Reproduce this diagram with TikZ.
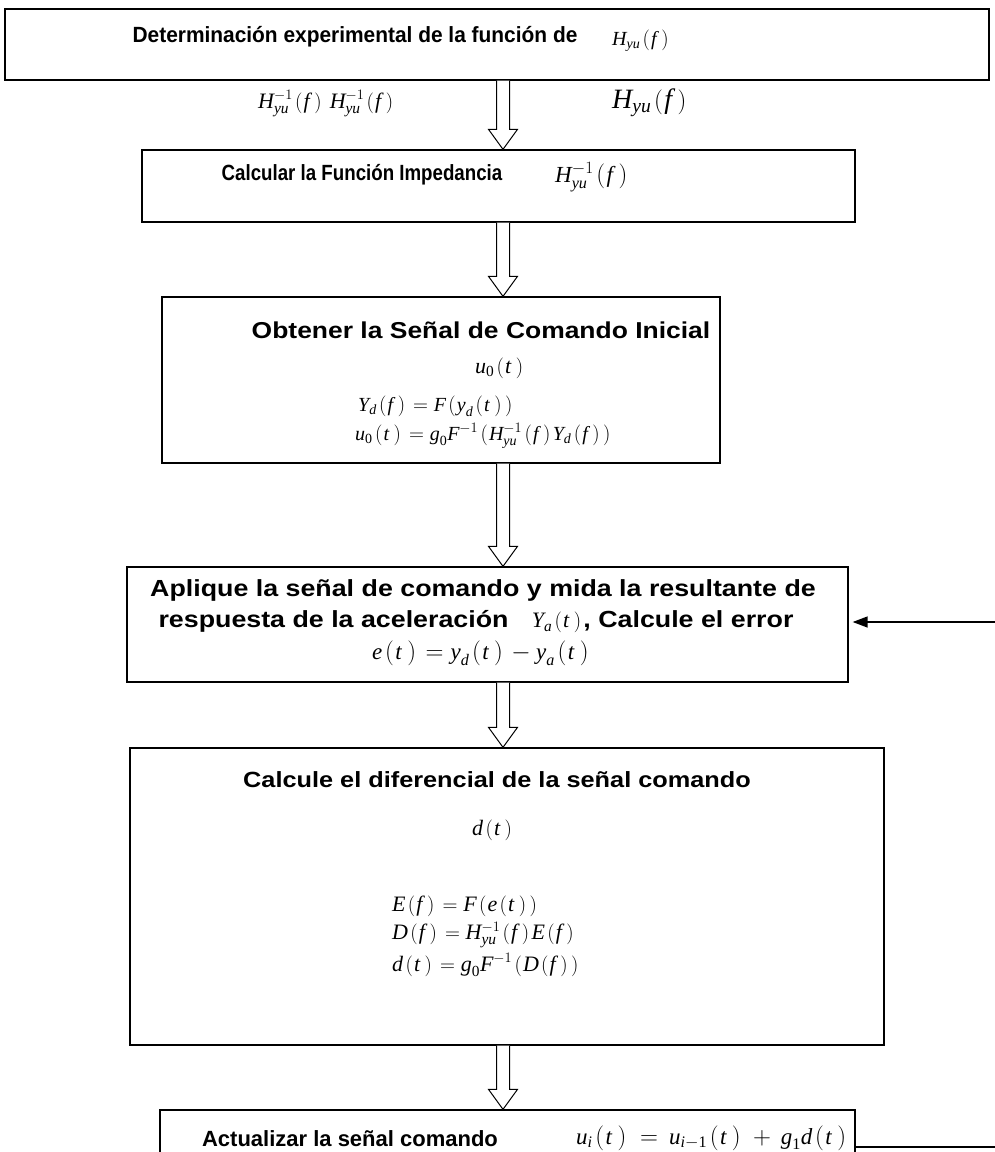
\documentclass[tikz,border=0pt]{standalone}
\usepackage{amsmath}
\usepackage{fontspec}
\setmainfont{Liberation Sans}
\newfontfamily\labA[FakeStretch=0.95]{Liberation Sans}
\newfontfamily\labB[FakeStretch=0.85]{Liberation Sans}
\newfontfamily\labC[FakeStretch=1.0]{Liberation Sans}
\newfontfamily\labW[FakeStretch=1.15]{Liberation Sans}
\newfontfamily\mth{Liberation Serif}
\usetikzlibrary{calc,arrows.meta}
\newcommand\iv[1]{\text{\mth\mdseries\itshape #1}}
\newcommand\rv[1]{\text{\mth\mdseries\upshape #1}}
\newcommand\lp{\mkern2mu(\mkern1mu}
\newcommand\rp{\mkern1mu)\mkern2mu}
\begin{document}
\begin{tikzpicture}[x=1pt,y=-1pt,
  box/.style={draw,line width=1.3pt,rectangle,inner sep=0pt},
  ttl/.style={inner sep=0pt},
  eq/.style={font=\mth\fontsize{22}{26}\selectfont,inner sep=0pt,anchor=west},
  blk/.style={draw,line width=1pt,fill=white,line join=miter},
  fbk/.style={draw,line width=1.4pt}]
\useasboundingbox (0,0) rectangle (995,1152);
\clip (0,0) rectangle (995,1152);
\coordinate (ax) at (503,0);
% boxes
\node[box,minimum width=984pt,minimum height=71pt] (b1) at (497,44.5) {};
\node[box,minimum width=713pt,minimum height=72pt] (b2) at (498.5,186) {};
\node[box,minimum width=558pt,minimum height=166pt] (b3) at (441,380) {};
\node[box,minimum width=721pt,minimum height=115pt] (b4) at (487.5,624.5) {};
\node[box,minimum width=754pt,minimum height=297pt] (b5) at (507,896.5) {};
\node[box,minimum width=695pt,minimum height=80pt] (b6) at (507.5,1150) {};
% box 1
\node[ttl,font=\labA\bfseries\fontsize{22}{26}\selectfont] (t1) at (355,37) {Determinación experimental de la función de};
\node[eq,font=\mth\fontsize{20}{24}\selectfont] (m1) at (612,41) {$\iv{H}_{\iv{yu}}\lp\iv{f}\,\rp$};
\node[eq,font=\mth\fontsize{22}{26}\selectfont] (l1) at (258,104) {$\iv{H}^{-1}_{\iv{yu}}\lp\iv{f}\,\rp\;\iv{H}^{-1}_{\iv{yu}}\lp\iv{f}\,\rp$};
\node[eq,font=\mth\fontsize{28}{32}\selectfont] (l2) at (612,103) {$\iv{H}_{\iv{yu}}\lp\iv{f}\,\rp$};
% box 2
\node[ttl,font=\labB\bfseries\fontsize{22}{26}\selectfont] (t2) at (362,175) {Calcular la Función Impedancia};
\node[eq,font=\mth\fontsize{23}{27}\selectfont] (m2) at (555,177) {$\iv{H}^{-1}_{\iv{yu}}\lp\iv{f}\,\rp$};
% box 3
\node[ttl,font=\labW\bfseries\fontsize{23}{27}\selectfont] (t3) at (481,330) {Obtener la Señal de Comando Inicial};
\node[eq] (m3a) at (475,368) {$\iv{u}_{\rv{0}}\lp\iv{t}\,\rp$};
\node[eq,font=\mth\fontsize{20}{24}\selectfont,align=left] (m3b) at (355,422)
  {\hspace*{3pt}$\iv{Y}_{\iv{d}}\lp\iv{f}\,\rp=\iv{F}\lp\iv{y}_{\iv{d}}\lp\iv{t}\,\rp\rp$\\[5pt]
   $\iv{u}_{\rv{0}}\lp\iv{t}\,\rp=\iv{g}_{\rv{0}}\iv{F}^{-1}\lp\iv{H}^{-1}_{\iv{yu}}\lp\iv{f}\,\rp\iv{Y}_{\iv{d}}\lp\iv{f}\,\rp\rp$};
% box 4
\node[ttl,font=\labW\bfseries\fontsize{23.3}{27}\selectfont] (t4a) at (483,590) {Aplique la señal de comando y mida la resultante de};
\node[ttl,font=\labW\bfseries\fontsize{23.3}{27}\selectfont] (t4b) at (476,622) {respuesta de la aceleración\quad{\mth\fontsize{22}{26}\selectfont$\iv{Y}_{\iv{a}}\lp\iv{t}\,\rp$}, Calcule el error};
\node[eq,font=\mth\fontsize{23}{27}\selectfont] (m4) at (372,653) {$\iv{e}\lp\iv{t}\,\rp=\iv{y}_{\iv{d}}\lp\iv{t}\,\rp-\iv{y}_{\iv{a}}\lp\iv{t}\,\rp$};
% box 5
\node[ttl,font=\labW\bfseries\fontsize{22}{26}\selectfont] (t5) at (497,780) {Calcule el diferencial de la señal comando};
\node[eq] (m5a) at (472,830) {$\iv{d}\lp\iv{t}\,\rp$};
\node[eq] (m5b) at (392,906) {$\iv{E}\lp\iv{f}\,\rp=\iv{F}\lp\iv{e}\lp\iv{t}\,\rp\rp$};
\node[eq] (m5c) at (392,935) {$\iv{D}\lp\iv{f}\,\rp=\iv{H}^{-1}_{\iv{yu}}\lp\iv{f}\,\rp\iv{E}\lp\iv{f}\,\rp$};
\node[eq] (m5d) at (392,965) {$\iv{d}\lp\iv{t}\,\rp=\iv{g}_{\rv{0}}\iv{F}^{-1}\lp\iv{D}\lp\iv{f}\,\rp\rp$};
% box 6
\node[ttl,font=\labC\bfseries\fontsize{22}{26}\selectfont] (t6) at (350,1139) {Actualizar la señal comando};
\node[eq,font=\mth\fontsize{23}{27}\selectfont] (m6) at (576,1138) {$\iv{u}_{\iv{i}}\lp\iv{t}\,\rp\,=\,\iv{u}_{\iv{i}-\rv{1}}\lp\iv{t}\,\rp\,+\,\iv{g}_{\rv{1}}\iv{d}\lp\iv{t}\,\rp$};
% block arrows
\foreach \a/\b in {b1/b2,b2/b3,b3/b4,b4/b5,b5/b6}{
  \draw[blk] ($(\a.south -| ax)+(-6.5,0)$) -- ($(\b.north -| ax)+(-6.5,-20)$)
    -- ($(\b.north -| ax)+(-14.5,-20)$) -- (\b.north -| ax)
    -- ($(\b.north -| ax)+(14.5,-20)$) -- ($(\b.north -| ax)+(6.5,-20)$)
    -- ($(\a.south -| ax)+(6.5,0)$);
}
% feedback
\coordinate (f4) at (995,622);
\coordinate (f6) at (995,1147);
\draw[fbk,-{Triangle[length=15pt,width=11pt]}] (f4) -- ($(f4 -| b4.east)+(4,0)$);
\draw[fbk] (b6.east |- f6) -- (f6);
\end{tikzpicture}
\end{document}
